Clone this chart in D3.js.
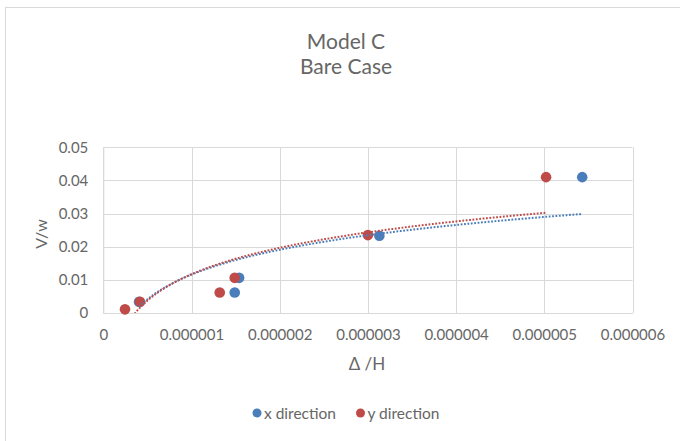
<!DOCTYPE html>
<html>
<head>
<meta charset="utf-8">
<script src="https://cdn.jsdelivr.net/npm/d3@7"></script>
<style>
  html, body { margin: 0; padding: 0; background: #fff; }
  svg { display: block; }
  text { font-family: Lato, "Open Sans", sans-serif; fill: #666; }
</style>
</head>
<body>
<svg id="chart" width="680" height="441"></svg>
<script>
// Drift ratio Δ/H (x) against base shear ratio V/w (y)
const xDirX = [0.405e-6, 1.49e-6, 1.54e-6, 3.13e-6, 5.43e-6];
const xDirY = [0.0034, 0.0062, 0.0106, 0.0233, 0.041];
const yDirX = [0.246e-6, 0.416e-6, 1.32e-6, 1.49e-6, 3.0e-6, 5.02e-6];
const yDirY = [0.0011, 0.0034, 0.0062, 0.0106, 0.0235, 0.041];

// Logarithmic trendline coefficients: y = a + b·ln(x / 1e-6)
const trendXDir = [0.0116, 0.0108];
const trendYDir = [0.0117, 0.0115];

const xTicks = [0, 1e-6, 2e-6, 3e-6, 4e-6, 5e-6, 6e-6];
const xTickLabels = ["0", "0.000001", "0.000002", "0.000003", "0.000004", "0.000005", "0.000006"];
const yTicks = [0, 0.01, 0.02, 0.03, 0.04, 0.05];
const yTickLabels = ["0", "0.01", "0.02", "0.03", "0.04", "0.05"];

const seriesNames = ["x direction", "y direction"];
const colors = ["#4a7ebb", "#be4b48"];

const FONT = "Lato, 'Open Sans', sans-serif";
const TEXT = "#666";
const svg = d3.select("#chart");

// chart area border
svg.append("rect")
  .attr("x", 5.5).attr("y", 7.5)
  .attr("width", 700).attr("height", 460)
  .attr("fill", "#fff").attr("stroke", "#d9d9d9").attr("stroke-width", 1);

const x = d3.scaleLinear().domain([0, 6e-6]).range([103.3, 632.5]);
const y = d3.scaleLinear().domain([0, 0.05]).range([313, 147.3]);

// titles
svg.append("text").attr("x", 346).attr("y", 48.5).attr("text-anchor", "middle")
  .style("font-size", "21px").text("Model C");
svg.append("text").attr("x", 346).attr("y", 73.5).attr("text-anchor", "middle")
  .style("font-size", "21px").text("Bare Case");

// gridlines
const grid = svg.append("g");
grid.selectAll("line.v").data(xTicks).join("line")
  .attr("x1", d => Math.round(x(d)) + 0.5).attr("x2", d => Math.round(x(d)) + 0.5)
  .attr("y1", y(0.05)).attr("y2", y(0))
  .attr("stroke", "#d9d9d9").attr("stroke-width", 1);
grid.selectAll("line.h").data(yTicks).join("line")
  .attr("x1", x(0)).attr("x2", x(6e-6))
  .attr("y1", d => Math.round(y(d)) + 0.5).attr("y2", d => Math.round(y(d)) + 0.5)
  .attr("stroke", "#d9d9d9").attr("stroke-width", 1);

// axes
const xAxis = d3.axisBottom(x).tickValues(xTicks)
  .tickFormat((d, i) => xTickLabels[i]).tickSize(0).tickPadding(16);
const gx = svg.append("g").attr("transform", `translate(0,${y(0)})`).call(xAxis);
gx.select(".domain").attr("stroke", "#d9d9d9");
gx.selectAll("text").style("font-size", "15px").style("fill", TEXT)
  .style("font-family", FONT);

const yAxis = d3.axisLeft(y).tickValues(yTicks)
  .tickFormat((d, i) => yTickLabels[i]).tickSize(0).tickPadding(15);
const gy = svg.append("g").attr("transform", `translate(${x(0)},0)`).call(yAxis);
gy.select(".domain").attr("stroke", "#d9d9d9");
gy.selectAll("text").style("font-size", "15px").style("fill", TEXT)
  .style("font-family", FONT);

// axis titles
svg.append("text").attr("x", 367).attr("y", 370).attr("text-anchor", "middle")
  .style("font-size", "17px").text("Δ /H");
svg.append("text").attr("transform", "translate(47,234) rotate(-90)")
  .attr("text-anchor", "middle").style("font-size", "16px").text("V/w");

// markers
const series = [
  { xs: xDirX, ys: xDirY, trend: trendXDir },
  { xs: yDirX, ys: yDirY, trend: trendYDir }
];

series.forEach((s, k) => {
  svg.append("g").selectAll("circle")
    .data(s.xs.map((v, i) => [v, s.ys[i]]))
    .join("circle")
    .attr("cx", d => x(d[0])).attr("cy", d => y(d[1]))
    .attr("r", 5.3).attr("fill", colors[k]);
});

// trendlines, clipped to the plot area
svg.append("clipPath").attr("id", "plotClip")
  .append("rect").attr("x", x(0)).attr("y", y(0.05))
  .attr("width", x(6e-6) - x(0)).attr("height", y(0) - y(0.05));

const line = d3.line().x(d => x(d[0])).y(d => y(d[1]));
series.forEach((s, k) => {
  const [lo, hi] = d3.extent(s.xs);
  const pts = d3.range(0, 201).map(i => {
    const xv = lo + (hi - lo) * i / 200;
    return [xv, s.trend[0] + s.trend[1] * Math.log(xv / 1e-6)];
  });
  svg.append("path").datum(pts)
    .attr("clip-path", "url(#plotClip)")
    .attr("d", line).attr("fill", "none")
    .attr("stroke", colors[k]).attr("stroke-width", 2)
    .attr("stroke-dasharray", "1.8 1.6");
});

// legend
const legend = svg.append("g");
const legendPos = [[257, 264], [360.5, 367.5]];
seriesNames.forEach((name, k) => {
  legend.append("circle").attr("cx", legendPos[k][0]).attr("cy", 413)
    .attr("r", 4.5).attr("fill", colors[k]);
  legend.append("text").attr("x", legendPos[k][1]).attr("y", 419)
    .style("font-size", "15.5px").text(name);
});
</script>
</body>
</html>
